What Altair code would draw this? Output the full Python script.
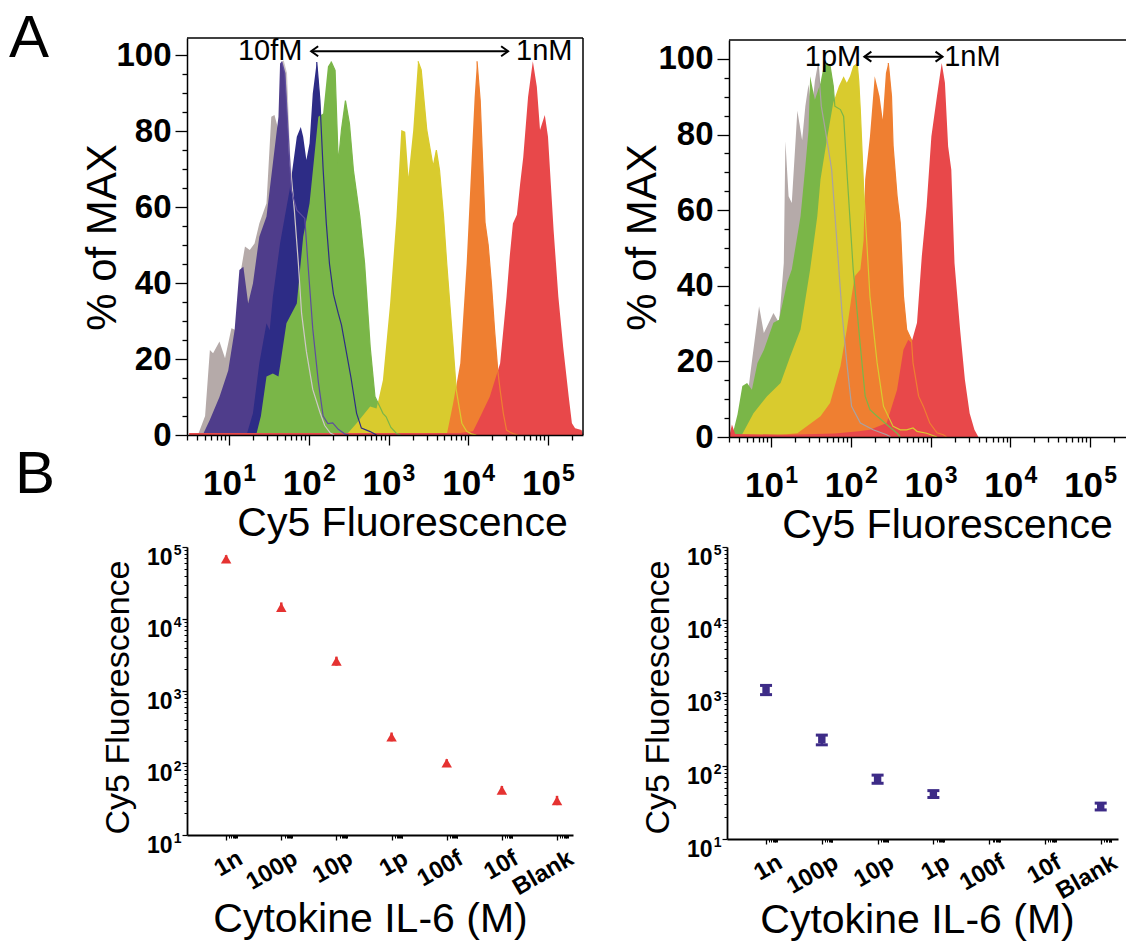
import altair as alt
import numpy as np
import pandas as pd

FONT = "Liberation Sans"
W, H = 1126, 943

# ===================== Panel A, left: flow histograms 10 fM ... 1 nM =====================
# x = log10(Cy5 fluorescence), y = % of MAX
AL_blank_x = [0.61, 0.70, 0.76, 0.80, 0.88, 0.95, 1.03, 1.09, 1.15, 1.20, 1.26, 1.32, 1.38, 1.47, 1.53,
              1.57, 1.62, 1.66, 1.68, 1.72, 1.76, 1.82, 1.87, 1.91, 1.97, 2.05, 2.14, 2.20, 2.27, 2.32]
AL_blank_y = [0, 5, 22.4, 21.5, 24.6, 20.2, 28.1, 27.6, 43.4, 49.6, 48.7, 50.4, 55.7, 61.0, 83.8,
              84.2, 80.3, 98.2, 98.5, 95.2, 73.2, 59, 45, 32, 22, 12, 6, 2.5, 0.5, 0]
AL_10f_x = [0.67, 0.76, 0.88, 0.99, 1.07, 1.13, 1.18, 1.24, 1.30, 1.38, 1.47, 1.55, 1.62, 1.64, 1.66,
            1.70, 1.74, 1.78, 1.85, 1.95, 1.99, 2.05, 2.12, 2.18, 2.24, 2.30, 2.37, 2.45, 2.50]
AL_10f_y = [0, 4, 10, 17, 27.6, 43.4, 44.3, 34.6, 39.9, 52.2, 57.5, 71.5, 83.8, 97.8, 98.3,
            95.2, 80.3, 64.5, 59.2, 57, 45, 28, 14, 5, 3, 3.2, 1.5, 0.3, 0]
AL_100f_x = [1.22, 1.30, 1.38, 1.47, 1.51, 1.55, 1.64, 1.70, 1.76, 1.85, 1.90, 1.93, 1.97, 2.01, 2.05,
             2.10, 2.14, 2.18, 2.22, 2.26, 2.31, 2.37, 2.41, 2.47, 2.53, 2.60, 2.66, 2.77, 2.85]
AL_100f_y = [0, 5.7, 18.9, 29.4, 27.6, 36.4, 50.4, 57.5, 64.5, 78.5, 81.1, 78.5, 72.4, 76.8, 89.9,
             98.2, 88, 70, 55.7, 45, 37, 32, 29, 22, 15, 5.7, 1.8, 0.9, 0]
AL_1p_x = [1.34, 1.40, 1.47, 1.55, 1.62, 1.72, 1.85, 1.93, 2.01, 2.12, 2.18, 2.24, 2.28, 2.33, 2.37,
           2.41, 2.46, 2.51, 2.56, 2.64, 2.70, 2.77, 2.83, 2.89, 2.93, 2.97, 3.03, 3.10, 3.15]
AL_1p_y = [0, 5, 15.4, 16.2, 15.4, 29.4, 34.6, 52.2, 61.0, 83.8, 84.6, 97.0, 98.3, 96.0, 71.5,
           80.3, 88.0, 82.0, 69.7, 57.5, 45.2, 23.2, 10.1, 7.5, 5.7, 4.8, 2.0, 0.4, 0]
AL_10p_x = [2.47, 2.60, 2.77, 2.85, 2.93, 3.02, 3.10, 3.16, 3.21, 3.25, 3.31, 3.37, 3.41, 3.48, 3.56,
            3.60, 3.64, 3.69, 3.73, 3.81, 3.85, 3.92, 3.98, 4.04, 4.10]
AL_10p_y = [0, 3.1, 7.5, 7.0, 14.5, 34.6, 57.5, 80.3, 79.8, 68.0, 80.3, 98.4, 96.1, 80.3, 70.6,
            75.0, 69.7, 57.5, 45.2, 23.2, 11.8, 3.1, 1.0, 0.3, 0]
AL_100p_x = [3.73, 3.81, 3.90, 3.98, 4.04, 4.08, 4.11, 4.15, 4.18, 4.21, 4.25, 4.29, 4.33, 4.37, 4.40,
             4.44, 4.48, 4.52, 4.56, 4.62]
AL_100p_y = [0, 8.3, 18.9, 45.2, 71.5, 89.0, 98.4, 88, 72, 56, 50, 40, 27.6, 17, 11.8,
             5.7, 1.3, 0.8, 0.4, 0]
AL_1n_x = [0.50, 1.0, 2.0, 3.0, 3.9, 4.06, 4.15, 4.27, 4.40, 4.48, 4.52, 4.56, 4.61, 4.65, 4.69,
           4.75, 4.81, 4.86, 4.90, 4.96, 5.00, 5.07, 5.13, 5.19, 5.26, 5.30, 5.34, 5.42, 5.44]
AL_1n_y = [0.5, 0.5, 0.5, 0.5, 0.5, 1.0, 4.8, 10.1, 18.9, 36.4, 47, 55.7, 58, 66, 73.2,
           89, 98.4, 91.7, 80.3, 84.2, 78.5, 54, 36.4, 23.2, 10.1, 3.1, 1.8, 1.3, 0]

# ===================== Panel A, right: flow histograms 1 pM ... 1 nM =====================
AR_blank_x = [0.58, 0.66, 0.70, 0.76, 0.85, 0.91, 1.03, 1.10, 1.16, 1.18, 1.22, 1.26, 1.33, 1.39, 1.43,
              1.47, 1.51, 1.55, 1.59, 1.63, 1.68, 1.76, 1.83, 1.89, 1.95, 2.01, 2.12, 2.28, 2.45, 2.50]
AR_blank_y = [0, 3, 10, 20, 34.6, 27.5, 32.8, 30.2, 46, 78.2, 63.7, 61.9, 86.3, 78.5, 87.5,
              93.2, 86.3, 94.2, 98.9, 87.5, 81.3, 70.7, 50.4, 32.8, 19.6, 8.1, 3.7, 1.9, 0.6, 0]
AR_1p_x = [0.51, 0.58, 0.64, 0.70, 0.76, 0.83, 0.91, 1.03, 1.10, 1.20, 1.26, 1.37, 1.43, 1.47, 1.49,
           1.55, 1.62, 1.66, 1.70, 1.74, 1.78, 1.80, 1.87, 1.91, 1.95, 2.03, 2.12, 2.18, 2.24, 2.33,
           2.45, 2.58, 2.62]
AR_1p_y = [0, 6, 13.5, 14.3, 12.5, 19.6, 23, 30.2, 31.0, 40.7, 44.3, 58.4, 71.6, 81, 95.4,
           89.2, 93.7, 98.1, 98.9, 98.1, 92.8, 87.5, 86.6, 84.8, 70.7, 44.3, 24, 10.8, 7.2, 5.5,
           3.3, 1, 0]
AR_10p_x = [0.62, 0.78, 0.95, 1.12, 1.24, 1.37, 1.49, 1.58, 1.62, 1.70, 1.78, 1.85, 1.91, 1.95, 1.99,
            2.03, 2.08, 2.10, 2.12, 2.16, 2.24, 2.33, 2.41, 2.53, 2.62, 2.70, 2.78, 2.83, 2.95, 3.08]
AR_10p_y = [0, 6.3, 10.8, 14.3, 21.3, 28.4, 44.3, 58.4, 68.1, 78.6, 88.4, 92.8, 95.4, 93.7, 95.4,
            98.1, 98.9, 94, 86, 66, 37.2, 19.6, 8.1, 2.8, 1.9, 1.9, 2.4, 1.5, 1.0, 0]
AR_100p_x = [0.75, 1.12, 1.33, 1.62, 1.74, 1.87, 1.95, 2.01, 2.05, 2.12, 2.16, 2.18, 2.24, 2.30, 2.36,
             2.40, 2.44, 2.47, 2.51, 2.53, 2.58, 2.62, 2.66, 2.70, 2.76, 2.78, 2.85, 2.91, 2.99, 3.08,
             3.16, 3.20]
AR_100p_y = [0, 0.6, 1.0, 5.5, 9.0, 18.7, 28.4, 37.2, 42.5, 44.3, 52, 68.1, 79.5, 95.4, 90.1,
             84, 96.3, 98.9, 90.1, 77, 63.7, 56.6, 37.2, 28.4, 25.7, 19.6, 10.8, 8.1, 3.7, 1.1,
             0.6, 0]
AR_1n_x = [0.48, 0.51, 0.55, 1.20, 1.80, 2.10, 2.24, 2.45, 2.58, 2.66, 2.72, 2.76, 2.83, 2.89, 2.95,
           3.01, 3.08, 3.14, 3.18, 3.22, 3.26, 3.30, 3.37, 3.43, 3.49, 3.55, 3.60]
AR_1n_y = [0.5, 3.3, 0.8, 0.6, 0.9, 1.5, 1.9, 3.7, 12.5, 23.1, 25.7, 24.9, 30.2, 47.8, 61.0,
           79.5, 90.1, 98.9, 93.7, 76.9, 70.7, 46.0, 28.4, 15.2, 6.3, 1.9, 0]

# ===================== Panel B: mean Cy5 fluorescence vs IL-6 =====================
CATS = ["1n", "100p", "10p", "1p", "100f", "10f", "Blank"]
BL_mean = [68000, 14500, 2600, 230, 100, 42, 30]
BL_lo = [60000, 12500, 2250, 200, 88, 37, 26]
BL_hi = [77000, 17000, 3000, 265, 113, 48, 35]
BR_mean = [1100, 230, 66, 41, None, None, 28]
BR_lo = [950, 195, 58, 37, None, None, 25]
BR_hi = [1270, 265, 75, 46, None, None, 31]

C_GRAY, C_PURP, C_NAVY = "#b5aaa9", "#4f3d8b", "#2d2c86"
C_GREEN, C_YEL, C_ORA, C_RED = "#7ab648", "#d9cb2e", "#ef7f31", "#e8484a"

LOGV = "(log(datum.value) / LN10)"


def carrier(xs, ys, xval, yval, x_axis=None, y_axis=None):
    """invisible mark that only carries an axis"""
    d = pd.DataFrame({"x": [xval], "y": [yval]})
    return alt.Chart(d).mark_point(opacity=0).encode(
        x=alt.X("x:Q", scale=xs, axis=x_axis), y=alt.Y("y:Q", scale=ys, axis=y_axis))


def hist_panel(series, tails, xdom, xrng, ydom, yrng, x_axis_px, y_axis_px,
               xtitle_x, ytitle_x, frame_right, arrow, lbl_left, lbl_right):
    xs = alt.Scale(domain=xdom, range=xrng, nice=False, zero=False)
    ys = alt.Scale(domain=ydom, range=yrng, nice=False, zero=False)
    all_log = np.log10([k * 10.0 ** d for d in range(0, 6) for k in range(1, 10)])
    x_major = [float(v) for v in range(1, 6)]
    x_minor = [float(v) for v in all_log
               if xdom[0] - 1e-9 <= v <= xdom[1] + 1e-9 and abs(v - round(v)) > 1e-6]
    common = dict(tickColor="black", tickWidth=1.3, grid=False, zindex=1)
    ax = alt.Axis(orient="bottom", offset=x_axis_px - H, values=x_major,
                  labelExpr="'10'", labelOffset=-7,
                  tickSize=10, domainColor="black", domainWidth=1.5,
                  labelFont=FONT, labelFontSize=35, labelFontWeight="bold", labelColor="black",
                  labelPadding=21, labelOverlap=False, labelFlush=False,
                  title="Cy5 Fluorescence", titleFont=FONT, titleFontSize=41, titleFontWeight="normal",
                  titleColor="black", titleX=xtitle_x, titleY=100, titleAlign="center",
                  titleBaseline="alphabetic", **common)
    ax_sup = alt.Axis(orient="bottom", offset=x_axis_px - H, values=x_major,
                      labelExpr="'' + round(datum.value)", labelOffset=20,
                      ticks=False, tickSize=0, domain=False, labelFont=FONT, labelFontSize=23,
                      labelFontWeight="bold", labelColor="black", labelPadding=27,
                      labelOverlap=False, labelFlush=False, grid=False, title=None, zindex=1)
    ax_min = alt.Axis(orient="bottom", offset=x_axis_px - H, values=x_minor, tickSize=5,
                      labels=False, domain=False, title=None, **common)
    ay = alt.Axis(orient="left", offset=-y_axis_px, values=list(range(0, 101, 20)),
                  tickSize=12, domainColor="black", domainWidth=1.5,
                  labelFont=FONT, labelFontSize=33, labelFontWeight="bold", labelColor="black",
                  labelPadding=4, labelOverlap=False,
                  title="% of MAX", titleFont=FONT, titleFontSize=42, titleFontWeight="normal",
                  titleColor="black", titleAngle=270, titleX=ytitle_x, titleY=237,
                  titleAlign="center", titleBaseline="alphabetic", **common)
    ay_min = alt.Axis(orient="left", offset=-y_axis_px, values=[v for v in range(5, 101, 5) if v % 20],
                      tickSize=5, labels=False, domain=False, title=None, **common)
    layers = []
    for xv, yv, col in series:
        df = pd.DataFrame({"x": xv, "y": yv})
        layers.append(alt.Chart(df).mark_area(color=col, opacity=1, interpolate="linear").encode(
            x=alt.X("x:Q", scale=xs, axis=None),
            y=alt.Y("y:Q", scale=ys, axis=None, stack=None)))
    for xv, yv, start, col in tails:
        df = pd.DataFrame({"x": xv, "y": yv})
        df = df[df["x"] >= start]
        layers.append(alt.Chart(df).mark_line(color=col, strokeWidth=1.2).encode(
            x=alt.X("x:Q", scale=xs, axis=None), y=alt.Y("y:Q", scale=ys, axis=None)))
    # frame
    top = pd.DataFrame({"x1": [xdom[0]], "x2": [xdom[1]], "y": [ydom[1]]})
    layers.append(alt.Chart(top).mark_rule(color="black", strokeWidth=1.5).encode(
        x=alt.X("x1:Q", scale=xs, axis=None), x2="x2:Q", y=alt.Y("y:Q", scale=ys, axis=None)))
    if frame_right:
        rt = pd.DataFrame({"x": [xdom[1]], "y1": [ydom[0]], "y2": [ydom[1]]})
        layers.append(alt.Chart(rt).mark_rule(color="black", strokeWidth=1.5).encode(
            x=alt.X("x:Q", scale=xs, axis=None), y=alt.Y("y1:Q", scale=ys, axis=None), y2="y2:Q"))
    # concentration-range arrow
    a1, a2, ay_ = arrow
    ad = pd.DataFrame({"x1": [a1], "x2": [a2], "y": [ay_]})
    layers.append(alt.Chart(ad).mark_rule(color="black", strokeWidth=2).encode(
        x=alt.X("x1:Q", scale=xs, axis=None), x2="x2:Q", y=alt.Y("y:Q", scale=ys, axis=None)))
    layers.append(alt.Chart(ad).mark_point(shape="M1.4,-1L0,0L1.4,1", size=100, filled=False,
                                           color="black", strokeWidth=2, opacity=1).encode(
        x=alt.X("x1:Q", scale=xs, axis=None), y=alt.Y("y:Q", scale=ys, axis=None)))
    layers.append(alt.Chart(ad).mark_point(shape="M-1.4,-1L0,0L-1.4,1", size=100, filled=False,
                                           color="black", strokeWidth=2, opacity=1).encode(
        x=alt.X("x2:Q", scale=xs, axis=None), y=alt.Y("y:Q", scale=ys, axis=None)))
    for (tx, txt, al) in (lbl_left + ("right",), lbl_right + ("left",)):
        td = pd.DataFrame({"x": [tx], "y": [ay_], "t": [txt]})
        layers.append(alt.Chart(td).mark_text(font=FONT, fontSize=29, align=al, baseline="middle",
                                              color="black").encode(
            x=alt.X("x:Q", scale=xs, axis=None), y=alt.Y("y:Q", scale=ys, axis=None), text="t:N"))
    layers += [carrier(xs, ys, xdom[0], ydom[0], x_axis=ax),
               carrier(xs, ys, xdom[0], ydom[0], x_axis=ax_sup),
               carrier(xs, ys, xdom[0], ydom[0], y_axis=ay),
               carrier(xs, ys, xdom[0], ydom[0], x_axis=ax_min),
               carrier(xs, ys, xdom[0], ydom[0], y_axis=ay_min)]
    return layers


A_left = hist_panel(
    series=[(AL_blank_x, AL_blank_y, C_GRAY), (AL_10f_x, AL_10f_y, C_PURP), (AL_100f_x, AL_100f_y, C_NAVY),
            (AL_1p_x, AL_1p_y, C_GREEN), (AL_10p_x, AL_10p_y, C_YEL), (AL_100p_x, AL_100p_y, C_ORA),
            (AL_1n_x, AL_1n_y, C_RED)],
    tails=[(AL_blank_x, AL_blank_y, 1.68, "#cfc8c8"), (AL_10f_x, AL_10f_y, 1.66, "#5e4d9e"),
           (AL_100f_x, AL_100f_y, 2.10, C_NAVY), (AL_1p_x, AL_1p_y, 2.28, C_GREEN),
           (AL_10p_x, AL_10p_y, 3.37, C_YEL), (AL_100p_x, AL_100p_y, 4.11, C_ORA)],
    xdom=[0.473, 5.439], xrng=[187, 583], ydom=[0, 104.5], yrng=[435, 38],
    x_axis_px=435, y_axis_px=187, xtitle_x=402, ytitle_x=-72, frame_right=True,
    arrow=(2.03, 4.50, 101), lbl_left=(1.92, "10fM"), lbl_right=(4.60, "1nM"))

A_right = hist_panel(
    series=[(AR_blank_x, AR_blank_y, C_GRAY), (AR_1p_x, AR_1p_y, C_GREEN), (AR_10p_x, AR_10p_y, C_YEL),
            (AR_100p_x, AR_100p_y, C_ORA), (AR_1n_x, AR_1n_y, C_RED)],
    tails=[(AR_blank_x, AR_blank_y, 1.59, "#a9a2a2"), (AR_1p_x, AR_1p_y, 1.70, C_GREEN),
           (AR_10p_x, AR_10p_y, 2.08, C_YEL), (AR_100p_x, AR_100p_y, 2.47, C_ORA)],
    xdom=[0.473, 5.45], xrng=[729, 1126], ydom=[0, 105], yrng=[437, 40],
    x_axis_px=437, y_axis_px=729, xtitle_x=947, ytitle_x=-74, frame_right=False,
    arrow=(2.17, 3.15, 100.6), lbl_left=(2.13, "1pM"), lbl_right=(3.17, "1nM"))


def dot_panel(mean, lo, hi, color, kind, xdom, xrng, yrng, x_axis_px, y_axis_px, xtitle_x, xtitle_y):
    xs = alt.Scale(domain=xdom, range=xrng, nice=False, zero=False)
    ys = alt.Scale(type="log", domain=[10, 100000], range=yrng, nice=False)
    y_major = [10.0, 100.0, 1000.0, 10000.0, 100000.0]
    y_minor = [float(k * 10 ** d) for d in range(1, 5) for k in range(2, 10)]
    # small log-style minor ticks just right of each category tick
    x_minor = [float(i + 0.2 * np.log10(k)) for i in range(len(CATS)) for k in range(2, 10)]
    cats_js = "[" + ",".join(f"'{c}'" for c in CATS) + "]"
    common = dict(tickColor="black", grid=False, zindex=1)
    ax = alt.Axis(orient="bottom", offset=x_axis_px - H, values=list(range(len(CATS))),
                  labelExpr=f"{cats_js}[round(datum.value)]", labelAngle=330, labelAlign="right",
                  labelBaseline="top", labelOffset=8, labelPadding=6, tickSize=5, tickWidth=1.3,
                  domainColor="black", domainWidth=1.8,
                  labelFont=FONT, labelFontSize=24, labelFontWeight="bold", labelColor="black",
                  labelOverlap=False, labelFlush=False,
                  title="Cytokine IL-6 (M)", titleFont=FONT, titleFontSize=41, titleFontWeight="normal",
                  titleColor="black", titleX=xtitle_x, titleY=xtitle_y, titleAlign="center",
                  titleBaseline="alphabetic", **common)
    ax_min = alt.Axis(orient="bottom", offset=x_axis_px - H, values=x_minor, tickSize=3, tickWidth=1,
                      labels=False, domain=False, title=None, **common)
    ay = alt.Axis(orient="left", offset=-y_axis_px, values=y_major,
                  labelExpr="'10'", labelOffset=10,
                  tickSize=5, tickWidth=1.2, domainColor="black", domainWidth=1.8,
                  labelFont=FONT, labelFontSize=23, labelFontWeight="bold", labelColor="black",
                  labelPadding=10, labelOverlap=False, labelFlush=False,
                  title="Cy5 Fluorescence", titleFont=FONT, titleFontSize=34, titleFontWeight="normal",
                  titleColor="black", titleAngle=270, titleX=-59, titleY=697,
                  titleAlign="center", titleBaseline="alphabetic", **common)
    ay_sup = alt.Axis(orient="left", offset=-y_axis_px, values=y_major,
                      labelExpr=f"'' + round({LOGV})", labelOffset=3,
                      ticks=False, tickSize=0, domain=False, labelFont=FONT, labelFontSize=14,
                      labelFontWeight="bold", labelColor="black", labelPadding=6,
                      labelOverlap=False, labelFlush=False, grid=False, title=None, zindex=1)
    ay_min = alt.Axis(orient="left", offset=-y_axis_px, values=y_minor, tickSize=3, tickWidth=1,
                      labels=False, domain=False, title=None, **common)
    df = pd.DataFrame({"i": list(range(len(CATS))), "m": mean, "lo": lo, "hi": hi}).dropna()
    base = alt.Chart(df)
    layers = [
        base.mark_rule(color=color, strokeWidth=2.5).encode(
            x=alt.X("i:Q", scale=xs, axis=None), y=alt.Y("lo:Q", scale=ys, axis=None), y2="hi:Q"),
    ]
    if kind == "triangle":
        layers.append(base.mark_point(shape="triangle-up", filled=True, size=110, color=color, opacity=1).encode(
            x=alt.X("i:Q", scale=xs, axis=None), y=alt.Y("m:Q", scale=ys, axis=None)))
    else:
        for f in ("lo", "hi"):
            layers.append(base.mark_tick(orient="horizontal", size=12, thickness=3, color=color, opacity=1).encode(
                x=alt.X("i:Q", scale=xs, axis=None), y=alt.Y(f"{f}:Q", scale=ys, axis=None)))
        layers.append(base.mark_point(shape="square", filled=True, size=55, color=color, opacity=1).encode(
            x=alt.X("i:Q", scale=xs, axis=None), y=alt.Y("m:Q", scale=ys, axis=None)))
    layers += [carrier(xs, ys, 0.0, 10.0, x_axis=ax),
               carrier(xs, ys, 0.0, 10.0, x_axis=ax_min),
               carrier(xs, ys, 0.0, 10.0, y_axis=ay),
               carrier(xs, ys, 0.0, 10.0, y_axis=ay_sup),
               carrier(xs, ys, 0.0, 10.0, y_axis=ay_min)]
    return layers


B_left = dot_panel(BL_mean, BL_lo, BL_hi, "#e53231", "triangle", xdom=[-0.71, 6.29], xrng=[187, 573],
                   yrng=[835, 547], x_axis_px=835, y_axis_px=187, xtitle_x=370, xtitle_y=96)
B_right = dot_panel(BR_mean, BR_lo, BR_hi, "#3d2b87", "square", xdom=[-0.70, 6.31], xrng=[727, 1118],
                    yrng=[839, 547], x_axis_px=839, y_axis_px=727, xtitle_x=917, xtitle_y=93)

letter_A = alt.Chart(pd.DataFrame({"t": ["A"]})).mark_text(
    font=FONT, fontSize=60, align="left", baseline="alphabetic", color="black").encode(
    text="t:N", x=alt.value(9), y=alt.value(57))
letter_B = alt.Chart(pd.DataFrame({"t": ["B"]})).mark_text(
    font=FONT, fontSize=60, align="left", baseline="alphabetic", color="black").encode(
    text="t:N", x=alt.value(15), y=alt.value(493))

chart = alt.layer(*A_left, *A_right, *B_left, *B_right, letter_A, letter_B).resolve_scale(
    x="independent", y="independent").properties(
    width=W, height=H, padding=0, autosize=alt.AutoSizeParams(type="none"),
    background="white").configure_view(stroke=None)

chart.save("out.html", embed_options={"renderer": "svg", "actions": False})
